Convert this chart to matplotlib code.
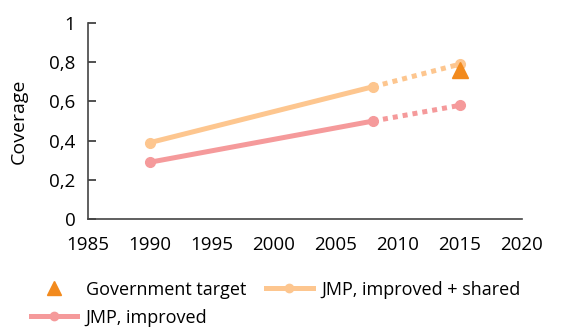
import matplotlib
matplotlib.use('Agg')
import matplotlib.pyplot as plt
from matplotlib.lines import Line2D
from matplotlib.ticker import FuncFormatter

# observed JMP values (solid) and projection to 2015 (dotted)
years_obs = [1990, 2008]
improved_obs = [0.29, 0.50]
shared_obs = [0.39, 0.675]
years_proj = [2008, 2015]
improved_proj = [0.50, 0.58]
shared_proj = [0.675, 0.79]
target_year = [2015]
target_value = [0.76]

x_ticks = [1985, 1990, 1995, 2000, 2005, 2010, 2015, 2020]
y_ticks = [0, 0.2, 0.4, 0.6, 0.8, 1]

c_shared = '#fdc68f'
c_improved = '#f59a9b'
c_target = '#f28a1d'

plt.rcParams['font.family'] = ['Open Sans', 'DejaVu Sans']
fig = plt.figure(figsize=(5.71, 3.28), dpi=100)
ax = fig.add_axes([0.154, 0.332, 0.76, 0.598])

lw = 3.6
ax.plot(years_obs, shared_obs, color=c_shared, lw=lw, marker='o', ms=7, solid_capstyle='round')
ax.plot(years_proj, shared_proj, color=c_shared, lw=lw, ls=(0, (1, 1)), marker='o', ms=7, markevery=[1])
ax.plot(years_obs, improved_obs, color=c_improved, lw=lw, marker='o', ms=7, solid_capstyle='round')
ax.plot(years_proj, improved_proj, color=c_improved, lw=lw, ls=(0, (1, 1)), marker='o', ms=7, markevery=[1])
ax.plot(target_year, target_value, ls='none', marker='^', ms=11, color=c_target, clip_on=False, zorder=5)

ax.set_xlim(1985, 2020)
ax.set_ylim(0, 1)
ax.set_xticks(x_ticks)
ax.set_yticks(y_ticks)
ax.yaxis.set_major_formatter(FuncFormatter(lambda v, p: ('%g' % v).replace('.', ',')))
ax.tick_params(axis='x', length=0, labelsize=13.5, pad=12)
ax.tick_params(axis='y', direction='in', length=6, width=1.2, color='#333333', labelsize=13.5, pad=9)
for s in ['top', 'right']:
    ax.spines[s].set_visible(False)
for s in ['left', 'bottom']:
    ax.spines[s].set_color('#444444')
    ax.spines[s].set_linewidth(1.2)
ax.set_ylabel('Coverage', fontsize=14, labelpad=15)

handles = [
    Line2D([], [], ls='none', marker='^', ms=10, color=c_target),
    Line2D([], [], color=c_improved, lw=lw, marker='o', ms=6),
    Line2D([], [], color=c_shared, lw=lw, marker='o', ms=6),
]
labels = ['Government target', 'JMP, improved', 'JMP, improved + shared']
fig.legend(handles, labels, ncol=2, loc='lower left', bbox_to_anchor=(0.025, -0.045),
           frameon=False, fontsize=13, handlelength=2.6, handletextpad=0.45,
           columnspacing=1.1, labelspacing=0.55)

fig.savefig('out.png', dpi=100)
